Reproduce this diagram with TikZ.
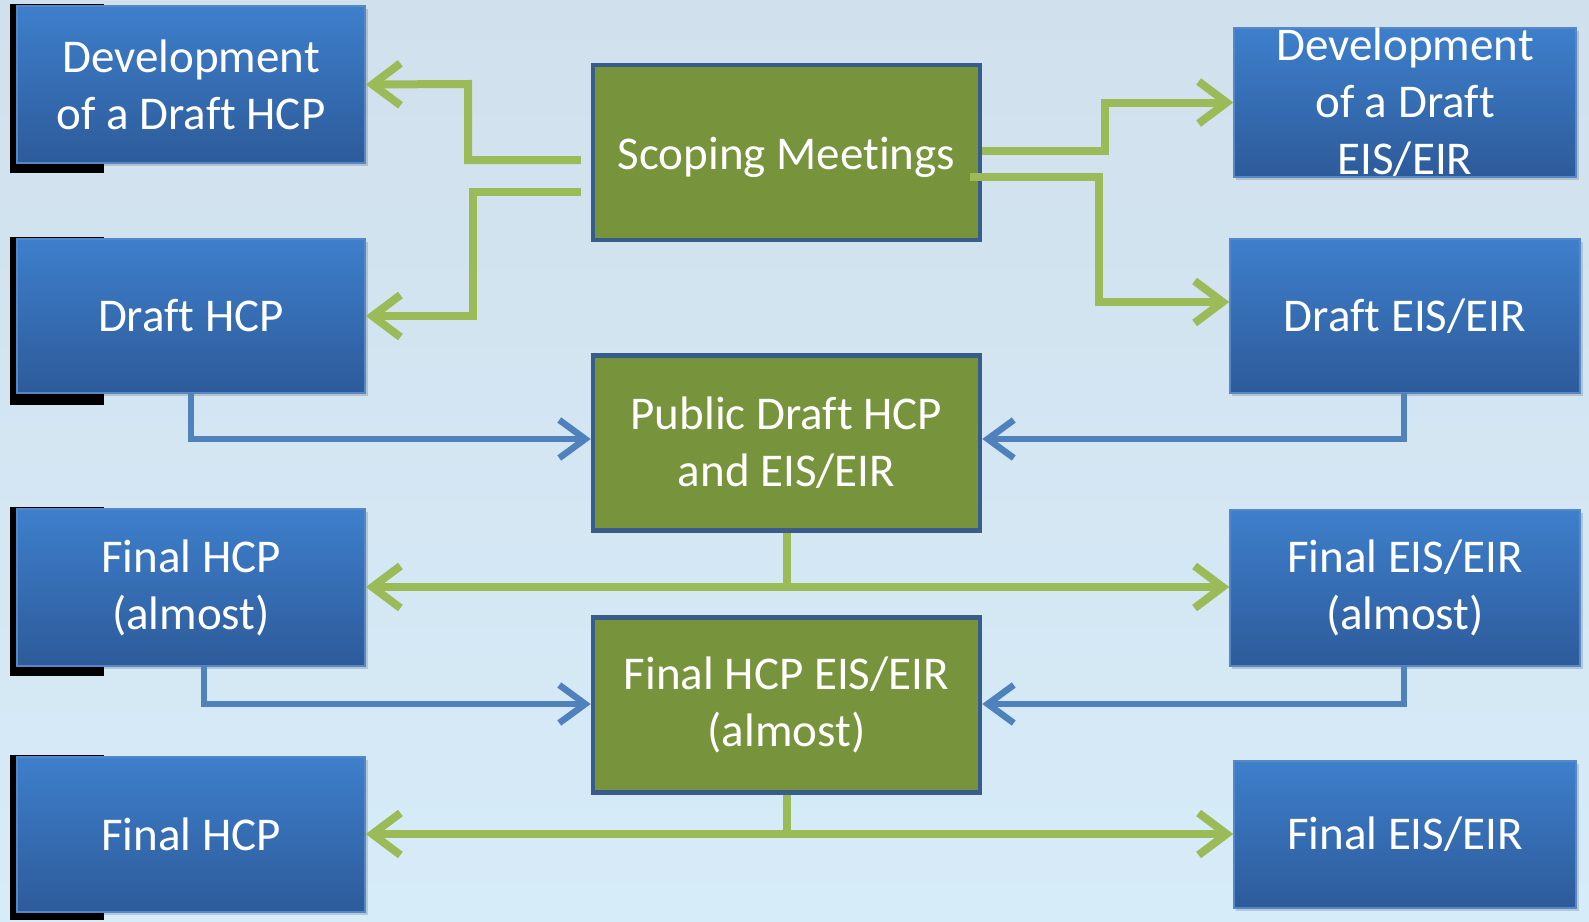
\documentclass[tikz,border=0pt]{standalone}
\usepackage{fontspec}
\setmainfont[Ligatures=NoCommon,Contextuals=NoAlternate]{Carlito}
\usetikzlibrary{arrows.meta,calc}
\definecolor{bgtop}{RGB}{209,224,237}
\definecolor{bgbot}{RGB}{214,236,248}
\definecolor{btop}{RGB}{62,127,204}
\definecolor{bbot}{RGB}{45,91,154}
\definecolor{bedge}{RGB}{84,136,200}
\definecolor{gfill}{RGB}{119,147,60}
\definecolor{gedge}{RGB}{56,93,138}
\definecolor{garrow}{RGB}{155,187,89}
\definecolor{barrow}{RGB}{79,129,189}
\tikzset{
  bluebox/.style={draw=bedge, line width=1.5pt, top color=btop, bottom color=bbot,
    text=white, align=center, inner sep=0pt, font=\fontsize{47}{57}\selectfont},
  greenbox/.style={draw=gedge, line width=4.5pt, fill=gfill,
    text=white, align=center, inner sep=0pt, font=\fontsize{47}{57}\selectfont,
    minimum width=387pt, minimum height=175pt},
  garr/.style={draw=garrow, line width=8pt,
    -{Straight Barb[length=28pt,width=42pt]}},
  garrline/.style={draw=garrow, line width=8pt},
  barr/.style={draw=barrow, line width=6.5pt,
    -{Straight Barb[length=26pt,width=38pt]}},
  shad/.style={fill=black},
}
\begin{document}
\begin{tikzpicture}[x=1pt,y=-1pt]
\useasboundingbox (0,0) rectangle (1589,921);
\shade[top color=bgtop, bottom color=bgbot] (0,0) rectangle (1589,921);

% black shadows on left boxes
\fill[shad] (10,4) rectangle (104,173);
\fill[shad] (10,237) rectangle (104,405);
\fill[shad] (10,507) rectangle (104,676);
\fill[shad] (10,755) rectangle (104,920);

% soft drop shadows
\fill[black, opacity=0.15] (19,9) rectangle (368,166);
\fill[black, opacity=0.15] (19,242) rectangle (368,396);
\fill[black, opacity=0.15] (19,512) rectangle (368,669);
\fill[black, opacity=0.15] (19,760) rectangle (368,915);
\fill[black, opacity=0.15] (1236,31) rectangle (1579,180);
\fill[black, opacity=0.15] (1232,242) rectangle (1583,396);
\fill[black, opacity=0.15] (1232,513) rectangle (1583,669);
\fill[black, opacity=0.15] (1236,764) rectangle (1579,911);

% left boxes
\node[bluebox, minimum width=348pt, minimum height=157pt] (l1) at (191,84.5) {Development\\of a Draft HCP};
\node[bluebox, minimum width=348pt, minimum height=154pt] (l2) at (191,316) {Draft HCP};
\node[bluebox, minimum width=348pt, minimum height=157pt] (l3) at (191,587.5) {Final HCP\\(almost)};
\node[bluebox, minimum width=348pt, minimum height=155pt] (l4) at (191,834.5) {Final HCP};

% right boxes
\node[bluebox, minimum width=342pt, minimum height=149pt] (r1) at (1405,102.5) {Development\\of a Draft\\EIS/EIR};
\node[bluebox, minimum width=350pt, minimum height=154pt] (r2) at (1405,316) {Draft EIS/EIR};
\node[bluebox, minimum width=350pt, minimum height=156pt] (r3) at (1405,588) {Final EIS/EIR\\(almost)};
\node[bluebox, minimum width=342pt, minimum height=147pt] (r4) at (1405,834.5) {Final EIS/EIR};

% green boxes
\node[greenbox, text height=43pt] (g1) at (786.5,152.5) {Scoping Meetings};
\node[greenbox] (g2) at (786.5,443) {Public Draft HCP\\and EIS/EIR};
\node[greenbox] (g3) at (786.5,705) {Final HCP EIS/EIR\\(almost)};

% green connectors from scoping
\coordinate (s1) at ($(g1.west)+(-10,7.5)$);
\coordinate (s2) at ($(g1.west)+(-10,39.5)$);
\coordinate (s3) at ($(g1.east)+(0,-1.5)$);
\coordinate (s4) at ($(g1.east)+(-12,24.5)$);
\draw[garr] (s1) -- (468,160) -- (468,84) -- (l1.east);
\draw[garr] (s2) -- (473,192) -- (473,316) -- (l2.east);
\draw[garr] (s3) -- (1105,151) -- (1105,102.5) -- (r1.west);
\coordinate (r2in) at ($(r2.west)+(0,-14)$);
\draw[garr] (s4) -- (1099,177) -- (1099,302) -- (r2in);

% green connectors from public draft
\coordinate (j2) at (786.5,587);
\draw[garrline] (g2.south) -- (j2);
\draw[garr] (j2) -- (l3.east |- j2);
\draw[garr] (j2) -- (r3.west |- j2);

% green connectors from final HCP EIS/EIR
\coordinate (j3) at (786.5,834);
\draw[garrline] (g3.south) -- (j3);
\draw[garr] (j3) -- (l4.east |- j3);
\draw[garr] (j3) -- (r4.west |- j3);

% blue connectors
\coordinate (b1) at (191,393);
\draw[barr] (b1) -- (191,439) -- (g2.west |- 0,439);
\coordinate (b2) at (1404,393);
\draw[barr] (b2) -- (1404,439) -- (g2.east |- 0,439);
\coordinate (b3) at (204,666);
\draw[barr] (b3) -- (204,704) -- (g3.west |- 0,704);
\coordinate (b4) at (1404,666);
\draw[barr] (b4) -- (1404,704) -- (g3.east |- 0,704);
\end{tikzpicture}
\end{document}
